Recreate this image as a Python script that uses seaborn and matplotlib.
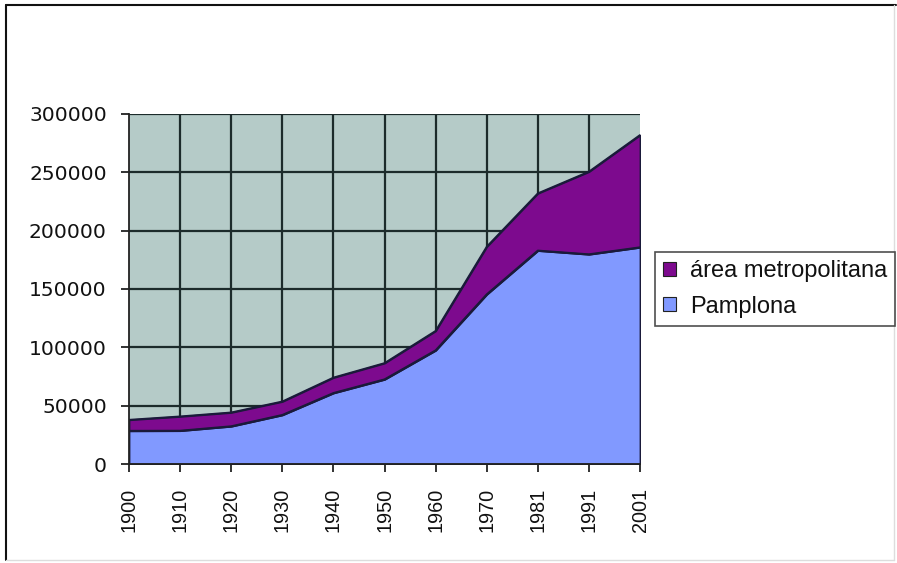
import matplotlib
matplotlib.use("Agg")
import matplotlib.pyplot as plt
import seaborn as sns
import pandas as pd
import numpy as np
from matplotlib.lines import Line2D
from matplotlib.patches import Patch

years = ["1900", "1910", "1920", "1930", "1940", "1950", "1960", "1970", "1981", "1991", "2001"]
pamplona = [28500, 28600, 32400, 42100, 60900, 72600, 97500, 145500, 183000, 179800, 185800]
total = [37900, 40800, 44200, 53600, 74100, 86500, 114100, 186300, 232000, 250600, 282000]
metro = [t - p for t, p in zip(total, pamplona)]
y_ticks = [0, 50000, 100000, 150000, 200000, 250000, 300000]

df = pd.DataFrame({"year": years, "Pamplona": pamplona, "área metropolitana": metro})
df["pos"] = np.arange(len(years))
df["total"] = df["Pamplona"] + df["área metropolitana"]

sns.set_theme(style="white")
plt.rcParams["font.family"] = ["Liberation Sans", "DejaVu Sans"]

W, H = 897, 563
fig = plt.figure(figsize=(W / 100, H / 100), dpi=100)
ax = fig.add_axes([129 / W, 1 - 464 / H, (640 - 129) / W, (464 - 114) / H])

bg = "#b5cbc8"
blue = "#8199ff"
purple = "#7d0a8e"
edge = "#1a1a3a"
grid_c = "#1c2b2b"

ax.set_facecolor(bg)
ax.stackplot(df["pos"], df["Pamplona"], df["área metropolitana"],
             colors=[blue, purple], edgecolor=edge, linewidth=1.3, zorder=3)
sns.lineplot(data=df, x="pos", y="Pamplona", ax=ax, color=edge, lw=1.3, zorder=4)
sns.lineplot(data=df, x="pos", y="total", ax=ax, color=edge, lw=1.3, zorder=4)

ax.set_xlim(0, len(years) - 1)
ax.set_ylim(0, 300000)
ax.set_xticks(df["pos"])
ax.set_xticklabels(years, rotation=90, fontsize=14.3)
ax.set_yticks(y_ticks)
ax.set_yticklabels([str(v) for v in y_ticks], fontsize=14.6, family=["DejaVu Sans"])
ax.set_xlabel("")
ax.set_ylabel("")

for v in y_ticks[1:]:
    ax.axhline(v, color=grid_c, lw=1.6, zorder=1)
for p in df["pos"][1:-1]:
    ax.axvline(p, color=grid_c, lw=1.6, zorder=1)

for s in ["top", "right"]:
    ax.spines[s].set_visible(False)
for s in ["left", "bottom"]:
    ax.spines[s].set_color("#222222")
    ax.spines[s].set_linewidth(1.3)
    ax.spines[s].set_zorder(5)

ax.tick_params(axis="y", direction="out", length=6, width=1.3, color="#222222",
               pad=10, left=True, labelcolor="#111111")
ax.tick_params(axis="x", direction="out", length=6, width=1.3, color="#222222",
               pad=11, bottom=True, labelcolor="#111111")

handles = [Patch(facecolor=purple, edgecolor="#222222", linewidth=0.8),
           Patch(facecolor=blue, edgecolor="#222222", linewidth=0.8)]
leg = fig.legend(handles, ["área metropolitana", "Pamplona"],
                 loc="upper left", bbox_to_anchor=(655 / W, 1 - 252 / H),
                 prop={"family": ["Liberation Sans"], "size": 17},
                 frameon=True, fancybox=False, borderpad=0.35,
                 handlelength=0.52, handleheight=0.52, handletextpad=0.6,
                 labelspacing=0.57, borderaxespad=0)
for t in leg.get_texts():
    t.set_color("#111111")
leg.get_frame().set_edgecolor("#222222")
leg.get_frame().set_linewidth(1.2)

# outer chart border
fig.add_artist(Line2D([6 / W, 6 / W], [1 - 5 / H, 1 - 560 / H], color="#111111", lw=1.5, transform=fig.transFigure))
fig.add_artist(Line2D([6 / W, 896 / W], [1 - 5 / H, 1 - 5 / H], color="#111111", lw=1.5, transform=fig.transFigure))
fig.add_artist(Line2D([894 / W, 894 / W], [1 - 5 / H, 1 - 560 / H], color="#dddddd", lw=1, transform=fig.transFigure))
fig.add_artist(Line2D([6 / W, 894 / W], [1 - 560 / H, 1 - 560 / H], color="#dddddd", lw=1, transform=fig.transFigure))

fig.savefig("out.png", dpi=100)
